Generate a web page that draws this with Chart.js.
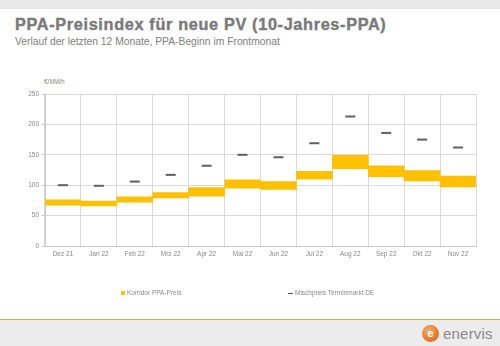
<!DOCTYPE html>
<html>
<head>
  <title>PPA-Preisindex</title>
  <style>
    body {
      margin: 0;
      width: 500px;
      height: 346px;
      position: relative;
      overflow: hidden;
      background: #fff;
      font-family: Arial, "Liberation Sans", sans-serif;
    }
    .topband {
      position: absolute; left: 0; top: 0; width: 500px; height: 9px;
      background: #e9e9e9;
    }
    h1 {
      position: absolute; left: 15px; top: 15px; margin: 0;
      font-size: 16.3px; font-weight: bold; color: #7a7a7a; white-space: nowrap;
      letter-spacing: 0.65px; -webkit-text-stroke: 0.4px #7a7a7a;
    }
    .sub {
      position: absolute; left: 15px; top: 36px;
      font-size: 10.3px; color: #808080; white-space: nowrap;
    }
    .unit {
      position: absolute; left: 44px; top: 78px;
      font-size: 6.5px; color: #888;
    }
    canvas { position: absolute; left: 0; top: 0; }
    .legend {
      position: absolute; top: 289px; font-size: 6.5px; color: #888; white-space: nowrap;
    }
    .legend i { display: inline-block; vertical-align: middle; margin-right: 2px; }
    .footer {
      position: absolute; left: 0; top: 319px; width: 500px; height: 27px;
      background: #ececec; border-top: 1px solid #f0a050;
    }
    .logo { position: absolute; left: 422px; top: 4px; height: 20px; }
    .logo .ball {
      position: absolute; left: 0; top: 1px; width: 17px; height: 17px; border-radius: 50%;
      background: radial-gradient(circle at 40% 35%, #f6b070, #e07020 70%, #b85a18);
      color: #fff; font-size: 11px; font-weight: bold; text-align: center; line-height: 16px;
    }
    .logo .txt {
      position: absolute; left: 21px; top: 1px; font-size: 15px; color: #8a8a8a; letter-spacing: 0.2px;
    }
  </style>
</head>
<body>
  <div class="topband"></div>
  <h1>PPA-Preisindex für neue PV (10-Jahres-PPA)</h1>
  <div class="sub">Verlauf der letzten 12 Monate, PPA-Beginn im Frontmonat</div>
  <div class="unit">€/MWh</div>
  <canvas id="chart" width="500" height="346"></canvas>
  <div class="legend" style="left:121px"><i style="width:4px;height:4px;background:#ffc000"></i>Korridor PPA-Preis</div>
  <div class="legend" style="left:288px"><i style="width:5px;height:1px;background:#555"></i>Mischpreis Terminmarkt DE</div>
  <div class="footer">
    <div class="logo"><div class="ball">e</div><div class="txt">enervis</div></div>
  </div>

  <script src="https://cdn.jsdelivr.net/npm/chart.js"></script>
  <script>
    const months = ['Dez 21', 'Jan 22', 'Feb 22', 'Mrz 22', 'Apr 22', 'Mai 22', 'Jun 22', 'Jul 22', 'Aug 22', 'Sep 22', 'Okt 22', 'Nov 22'];
    const ppaLow = [67, 66, 72, 79, 82, 95, 93, 110, 127, 114, 107, 97];
    const ppaHigh = [76, 74, 81, 88, 96, 109, 106, 123, 149, 132, 124, 115];
    const mischpreis = [100, 99, 106, 117, 132, 150, 146, 169, 213, 186, 175, 162];
    const yTicks = [0, 50, 100, 150, 200, 250];

    const corridor = months.map((m, i) => [ppaLow[i], ppaHigh[i]]);
    const tickFont = { family: 'Arial', size: 6.5 };

    new Chart(document.getElementById('chart').getContext('2d'), {
      type: 'bar',
      data: {
        labels: months,
        datasets: [{
          label: 'Korridor PPA-Preis',
          data: corridor,
          backgroundColor: '#ffc000',
          borderWidth: 0,
          barPercentage: 1,
          categoryPercentage: 1,
          order: 2
        }, {
          type: 'line',
          label: 'Mischpreis Terminmarkt DE',
          data: mischpreis,
          showLine: false,
          pointStyle: 'line',
          pointRadius: 5,
          pointBorderWidth: 2,
          borderColor: '#606060',
          backgroundColor: '#606060',
          order: 1
        }]
      },
      options: {
        responsive: false,
        animation: false,
        layout: { padding: { left: 0, right: 24, top: 94, bottom: 80 } },
        plugins: { legend: { display: false }, tooltip: { enabled: false } },
        scales: {
          x: {
            grid: { color: '#d9d9d9', offset: true, drawTicks: false },
            border: { color: '#c8c8c8' },
            ticks: { color: '#888', font: tickFont, padding: 4, maxRotation: 0 },
            afterFit: s => { s.height = 20; }
          },
          y: {
            min: 0,
            max: 250,
            afterBuildTicks: s => { s.ticks = yTicks.map(v => ({ value: v })); },
            grid: { color: '#d9d9d9', drawTicks: true, tickLength: 3, tickColor: '#c8c8c8' },
            border: { color: '#c8c8c8' },
            ticks: { color: '#888', font: tickFont, padding: 3 },
            afterFit: s => { s.width = 45; }
          }
        }
      }
    });
  </script>
</body>
</html>
